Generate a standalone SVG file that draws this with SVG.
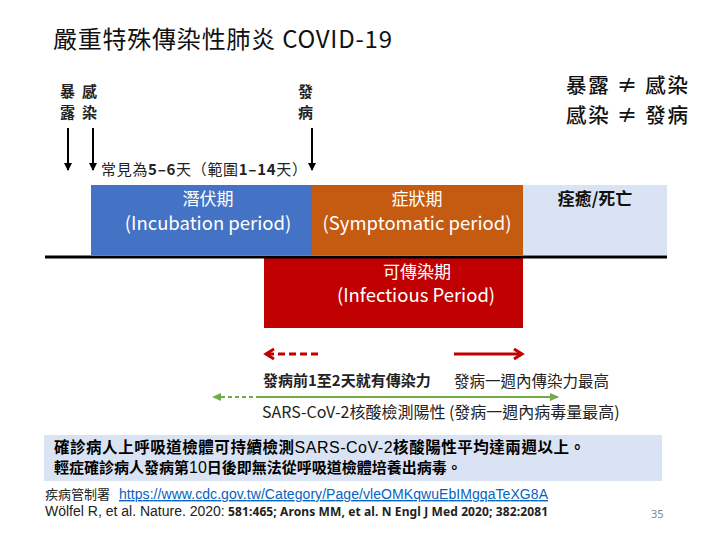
<svg xmlns="http://www.w3.org/2000/svg" width="720" height="540" viewBox="0 0 720 540">
<defs>
<style>
.cjk{font-family:"Noto Sans CJK TC","Noto Sans",sans-serif;}
.w{fill:#ffffff;}
.box-t{font-size:17px;text-anchor:middle;}
.box-e{font-size:18.5px;text-anchor:middle;}
.vl{font-size:15px;font-weight:bold;fill:#222;}
.ne{font-size:20.5px;fill:#111;font-weight:500;}
</style>
<marker id="ahB" markerWidth="8" markerHeight="10" refX="7" refY="5" orient="auto" markerUnits="userSpaceOnUse">
<path d="M0,1 L8,5 L0,9 Z" fill="#000"/>
</marker>
<marker id="ahR" markerWidth="14" markerHeight="14" refX="11" refY="7" orient="auto" markerUnits="userSpaceOnUse">
<path d="M3,2 L11,7 L3,12" fill="none" stroke="#C00000" stroke-width="3"/>
</marker>
<marker id="ahG" markerWidth="10" markerHeight="10" refX="8" refY="5" orient="auto" markerUnits="userSpaceOnUse">
<path d="M0,1 L9,5 L0,9 Z" fill="#70AD47"/>
</marker>
</defs>
<rect width="720" height="540" fill="#ffffff"/>

<g id="title">
<text class="cjk" x="53" y="48" font-size="24" fill="#111" textLength="339">嚴重特殊傳染性肺炎 COVID-19</text>
</g>

<g id="label-exposure">
<text class="cjk vl" x="60" y="97">暴</text>
<text class="cjk vl" x="60" y="118">露</text>
</g>
<g id="label-infection">
<text class="cjk vl" x="82" y="97">感</text>
<text class="cjk vl" x="82" y="118">染</text>
</g>
<g id="label-onset">
<text class="cjk vl" x="298" y="97">發</text>
<text class="cjk vl" x="298" y="118">病</text>
</g>
<g id="note-incubation">
<text class="cjk" x="101" y="175" font-size="15" fill="#222" textLength="206">常見為<tspan font-weight="bold">5–6</tspan>天（範圍<tspan font-weight="bold">1–14</tspan>天）</text>
</g>

<g id="not-equal">
<text class="cjk ne" x="566" y="93" textLength="122">暴露 ≠ 感染</text>
<text class="cjk ne" x="566" y="123" textLength="122">感染 ≠ 發病</text>
</g>

<g id="incubation">
<rect x="91" y="185" width="221" height="70" fill="#4472C4"/>
<text class="cjk box-t w" x="208" y="205">潛伏期</text>
<text class="cjk box-e w" x="208" y="230">(Incubation period)</text>
</g>
<g id="symptomatic">
<rect x="312" y="185" width="211" height="70" fill="#C55A11"/>
<text class="cjk box-t w" x="417" y="205">症狀期</text>
<text class="cjk box-e w" x="417" y="230">(Symptomatic period)</text>
</g>
<g id="recovery">
<rect x="523" y="185" width="144" height="70" fill="#DAE3F3"/>
<text class="cjk box-t" x="595" y="205" font-weight="bold" fill="#111">痊癒/死亡</text>
</g>
<g id="infectious">
<rect x="264" y="258" width="259" height="70" fill="#C00000"/>
<text class="cjk box-t w" x="417" y="278">可傳染期</text>
<text class="cjk box-e w" x="416" y="302">(Infectious Period)</text>
</g>

<g id="connectors">
<line x1="68" y1="128" x2="68" y2="170" stroke="#000" stroke-width="2" marker-end="url(#ahB)"/>
<line x1="93" y1="128" x2="93" y2="170" stroke="#000" stroke-width="2" marker-end="url(#ahB)"/>
<line x1="312" y1="128" x2="312" y2="170" stroke="#000" stroke-width="2" marker-end="url(#ahB)"/>
<line x1="45" y1="257" x2="667" y2="257" stroke="#000" stroke-width="3"/>
<line x1="318" y1="354" x2="266" y2="354" stroke="#C00000" stroke-width="3" stroke-dasharray="7 4" marker-end="url(#ahR)"/>
<line x1="454" y1="354" x2="522" y2="354" stroke="#C00000" stroke-width="3" marker-end="url(#ahR)"/>
<line x1="260" y1="397" x2="213" y2="397" stroke="#70AD47" stroke-width="2" stroke-dasharray="4 3" marker-end="url(#ahG)"/>
<line x1="258" y1="397" x2="558" y2="397" stroke="#70AD47" stroke-width="2" marker-end="url(#ahG)"/>
</g>

<g id="label-pre-onset">
<text class="cjk" x="263" y="386" font-size="15" font-weight="bold" fill="#222">發病前1至2天就有傳染力</text>
</g>
<g id="label-week">
<text class="cjk" x="454" y="387" font-size="15.5" fill="#222">發病一週內傳染力最高</text>
</g>
<g id="label-pcr">
<text class="cjk" x="262" y="418" font-size="16" fill="#222">SARS-CoV-2核酸檢測陽性 (發病一週內病毒量最高)</text>
</g>

<g id="summary">
<rect x="44" y="435" width="618" height="46" fill="#DAE3F3"/>
<text class="cjk" x="54" y="453" font-size="15.5" font-weight="bold" fill="#000" textLength="531">確診病人上呼吸道檢體可持續檢測<tspan font-family="Liberation Sans, sans-serif" font-weight="normal" font-size="16">SARS-CoV-2</tspan>核酸陽性平均達兩週以上。</text>
<text class="cjk" x="54" y="473" font-size="15" font-weight="bold" fill="#000">輕症確診病人發病第<tspan font-family="Liberation Sans, sans-serif" font-weight="normal" font-size="16">10</tspan>日後即無法從呼吸道檢體培養出病毒。</text>
</g>

<g id="references">
<text class="cjk" x="45" y="499" font-size="13" fill="#222">疾病管制署 <tspan font-family="Liberation Sans, sans-serif" font-size="14" fill="#0563C1" text-decoration="underline" x="119" textLength="429">https://www.cdc.gov.tw/Category/Page/vleOMKqwuEbIMgqaTeXG8A</tspan></text>
<text x="45" y="516" font-size="14" fill="#222" font-family="Liberation Sans, sans-serif">Wölfel R, et al. Nature. 2020:<tspan font-family="Noto Sans, sans-serif" font-weight="bold" font-size="12" x="228" textLength="320">581:465; Arons MM, et al. N Engl J Med 2020; 382:2081</tspan></text>
<text x="651" y="518" font-size="11" fill="#888" font-family="Noto Sans, sans-serif">35</text>
</g>
</svg>
